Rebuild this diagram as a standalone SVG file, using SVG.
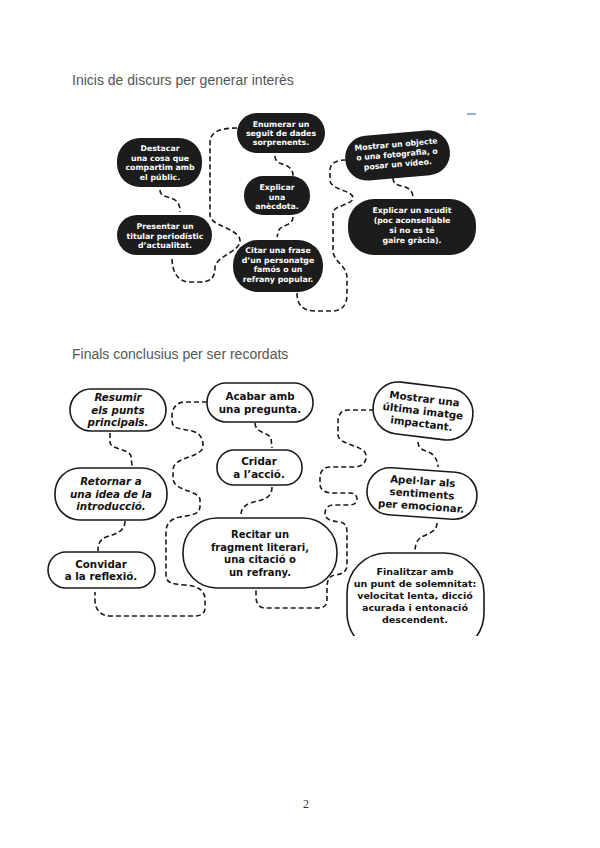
<svg xmlns="http://www.w3.org/2000/svg" width="600" height="848" viewBox="0 0 600 848">
<defs>
<style>
.title{font-family:"Liberation Sans",Arial,sans-serif;font-size:14px;fill:#555}
.pg{font-family:"Liberation Serif",serif;font-size:12px;fill:#333}
.dk rect{fill:#1c1c1c}
.dk text{font-family:"DejaVu Sans","Noto Sans",sans-serif;font-weight:700;font-size:7.8px;fill:#fff;text-anchor:middle}
.lt rect{fill:#fff;stroke:#1a1a1a;stroke-width:1.6}
.lt text{font-family:"DejaVu Sans","Noto Sans",sans-serif;font-weight:700;font-size:10.3px;fill:#111;text-anchor:middle}
.it text{font-style:italic}
.con path{fill:none;stroke:#1a1a1a;stroke-width:1.6;stroke-dasharray:5 3}
</style>
<clipPath id="scan"><rect x="0" y="360" width="600" height="276"/></clipPath>
</defs>
<rect width="600" height="848" fill="#fff"/>
<text class="title" x="72" y="85">Inicis de discurs per generar interès</text>
<text class="title" x="72" y="359">Finals conclusius per ser recordats</text>
<rect x="467" y="113" width="9" height="2" fill="#8fb0d6"/>
<text class="pg" x="306" y="808" text-anchor="middle">2</text>

<g id="connectors" class="con">
<path d="M160,190 C160,198 170,196 175,200 C180,204 180,208 180,212"/>
<path d="M237,128 C225,128 210,130 210,142 L210,215 C210,226 238,228 240,240 C241,252 215,256 215,268 C215,278 210,282 200,282 L188,282 C178,281 172,272 172,258"/>
<path d="M275,156 C275,165 285,163 290,168 C293,171 293,174 293,176"/>
<path d="M293,217 C293,226 281,225 279,230 L277,237"/>
<path d="M297,293 C297,305 303,311 315,311 L333,311 C343,311 347,303 347,295 L347,278 C347,265 333,262 333,250 L333,213 C333,205 353,205 353,198 C353,190 330,190 330,180 L330,170 C330,163 337,160 345,160"/>
<path d="M393,178 C393,188 405,184 410,190 C413,193 413,196 413,198"/>

<path d="M110,433 L110,442 C110,450 128,448 131,456 L132,466"/>
<path d="M125,521 C125,532 115,534 106,537 C99,540 98,545 98,551"/>
<path d="M207,402 L185,402 C177,402 172,408 172,416 L172,420 C172,430 180,428 192,431 C200,433 203,438 203,446 C203,458 173,456 173,470 L173,478 C173,492 200,490 200,500 L200,506 C200,515 190,515 180,517 C170,519 166,524 166,532 L166,575 C166,583 172,584 185,585 C198,586 205,590 205,600 L205,608 C205,614 200,616 195,616 L110,616 C101,616 95,610 95,600 L95,592"/>
<path d="M255,423 C255,433 268,432 271,438 L272,448"/>
<path d="M272,487 C272,500 260,500 250,503 C243,506 241,510 241,515"/>
<path d="M374,410 L348,410 C341,410 338,415 338,422 L338,435 C338,445 365,445 366,455 C367,462 362,467 355,467 L330,467 C323,467 320,472 320,478 L320,484 C320,490 325,493 333,493 L350,493 C355,493 357,496 357,499 C357,503 354,505 349,505 L333,505 C328,505 325,509 325,513 C325,519 330,521 340,522 C346,523 347,527 347,533 L347,565 C347,571 343,574 335,575 C329,576 327,580 327,588 L327,601 C327,606 323,608 317,608 L265,608 C259,608 256,603 256,597 L256,590"/>
<path d="M418,442 C418,452 430,450 434,456 C437,460 438,463 438,467"/>
<path d="M437,523 C437,533 425,534 420,538 C416,542 415,546 415,552"/>
</g>

<g id="destacar" class="dk">
<rect x="117" y="138" width="85" height="49" rx="23"/>
<text x="160" y="151">Destacar</text><text x="160" y="160.7">una cosa que</text><text x="160" y="170.4">compartim amb</text><text x="160" y="180.1">el públic.</text>
</g>
<g id="enumerar" class="dk">
<rect x="237" y="113" width="88" height="40" rx="20"/>
<text x="281" y="126.5">Enumerar un</text><text x="281" y="135.8">seguit de dades</text><text x="281" y="145.1">sorprenents.</text>
</g>
<g id="anecdota" class="dk">
<rect x="244" y="176" width="66" height="39" rx="19"/>
<text x="277" y="190">Explicar</text><text x="277" y="199.5">una</text><text x="277" y="209">anècdota.</text>
</g>
<g id="objecte" class="dk" transform="rotate(-5 397 155)">
<rect x="345" y="133" width="105" height="45" rx="22"/>
<text x="397" y="147">Mostrar un objecte</text><text x="397" y="157">o una fotografia, o</text><text x="397" y="167">posar un vídeo.</text>
</g>
<g id="acudit" class="dk">
<rect x="348" y="199" width="128" height="56" rx="26"/>
<text x="412" y="213">Explicar un acudit</text><text x="412" y="223">(poc aconsellable</text><text x="412" y="233">si no es té</text><text x="412" y="243">gaire gràcia).</text>
</g>
<g id="presentar" class="dk">
<rect x="117" y="215" width="95" height="40" rx="20"/>
<text x="165" y="229">Presentar un</text><text x="165" y="238.5">titular periodístic</text><text x="165" y="248">d’actualitat.</text>
</g>
<g id="citar" class="dk">
<rect x="233" y="240" width="90" height="52" rx="25"/>
<text x="278" y="253">Citar una frase</text><text x="278" y="262.7">d’un personatge</text><text x="278" y="272.4">famós o un</text><text x="278" y="282.1">refrany popular.</text>
</g>

<g id="resumir" class="lt it">
<rect x="70" y="389" width="96" height="42" rx="21"/>
<text x="118" y="401.3">Resumir</text><text x="118" y="413.8">els punts</text><text x="118" y="426.3">principals.</text>
</g>
<g id="acabar" class="lt">
<rect x="207" y="383" width="106" height="39" rx="19"/>
<text x="260" y="400">Acabar amb</text><text x="260" y="412.5">una pregunta.</text>
</g>
<g id="cridar" class="lt">
<rect x="217" y="450" width="85" height="35" rx="17"/>
<text x="259" y="465">Cridar</text><text x="259" y="477.5">a l’acció.</text>
</g>
<g id="ultima" class="lt" transform="rotate(7 423 411)">
<rect x="373" y="385" width="100" height="52" rx="25"/>
<text x="423" y="402.3">Mostrar una</text><text x="423" y="414.8">última imatge</text><text x="423" y="427.3">impactant.</text>
</g>
<g id="apellar" class="lt" transform="rotate(4 422 493)">
<rect x="367" y="470" width="110" height="47" rx="23"/>
<text x="422" y="484.8">Apel·lar als</text><text x="422" y="497.3">sentiments</text><text x="422" y="509.8">per emocionar.</text>
</g>
<g id="retornar" class="lt it">
<rect x="55" y="468" width="112" height="52" rx="25"/>
<text x="111" y="485.3">Retornar a</text><text x="111" y="497.8">una idea de la</text><text x="111" y="510.3">introducció.</text>
</g>
<g id="convidar" class="lt">
<rect x="48" y="552" width="107" height="36" rx="18"/>
<text x="101" y="567.5">Convidar</text><text x="101" y="580">a la reflexió.</text>
</g>
<g id="recitar" class="lt">
<rect x="183" y="518" width="154" height="70" rx="34"/>
<text x="260" y="538" style="font-size:10px">Recitar un</text><text x="260" y="550.5" style="font-size:10px">fragment literari,</text><text x="260" y="563" style="font-size:10px">una citació o</text><text x="260" y="575.5" style="font-size:10px">un refrany.</text>
</g>
<g id="finalitzar" class="lt" clip-path="url(#scan)">
<rect x="347" y="553" width="137" height="100" rx="40"/>
<text x="415" y="575.4" style="font-size:9.5px">Finalitzar amb</text><text x="415" y="587.4" style="font-size:9.5px">un punt de solemnitat:</text><text x="415" y="599.4" style="font-size:9.5px">velocitat lenta, dicció</text><text x="415" y="611.4" style="font-size:9.5px">acurada i entonació</text><text x="415" y="623.4" style="font-size:9.5px">descendent.</text>
</g>
</svg>
